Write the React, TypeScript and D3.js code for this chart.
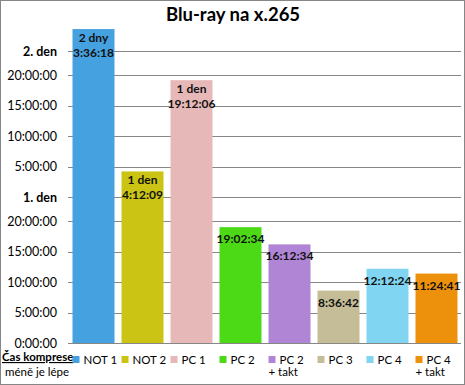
import React from "react";
import * as d3 from "d3";

const categories = ["NOT 1", "NOT 2", "PC 1", "PC 2", "PC 2\n+ takt", "PC 3", "PC 4", "PC 4\n+ takt"];
const durationDays = [2, 1, 1, 0, 0, 0, 0, 0];
const durationTimes = ["3:36:18", "4:12:09", "19:12:06", "19:02:34", "16:12:34", "8:36:42", "12:12:24", "11:24:41"];
const barColors = ["#46a1e0", "#cbc414", "#e6b8b7", "#4cda16", "#b085d5", "#c4bd97", "#7fd5f2", "#ed900b"];
const tickHours = [0, 5, 10, 15, 20, 24, 29, 34, 39, 44, 48];
const tickLabels = ["0:00:00", "5:00:00", "10:00:00", "15:00:00", "20:00:00", "1. den", "5:00:00", "10:00:00", "15:00:00", "20:00:00", "2. den"];
const title = "Blu-ray na x.265";
const legendTitle = "Čas komprese";
const legendSub = "méně je lépe";

const W = 465, H = 385;
const FONT = "Lato, 'Liberation Sans', Arial, sans-serif";

function toHours(days: number, t: string) {
  const [h, m, s] = t.split(":").map(Number);
  return days * 24 + h + m / 60 + s / 3600;
}

export default function App() {
  const values = durationDays.map((d, i) => toHours(d, durationTimes[i]));
  const x = d3.scaleBand<number>().domain(d3.range(categories.length)).range([69, 461]).paddingInner(0.143).paddingOuter(0.0715);
  const y = d3.scaleLinear().domain([0, 48]).range([343, 51]);
  const right = 461;

  return (
    <svg width={W} height={H} style={{ position: "absolute", left: 0, top: 0, background: "#fff" }} fontFamily={FONT}>
      <rect x={0.5} y={0.5} width={W - 1} height={H - 1} fill="#fff" stroke="#868686" />
      <text x={233} y={21} textAnchor="middle" fontSize={18.5} fontWeight="bold" fill="#000">{title}</text>
      {tickHours.slice(1).map((t, i) => (
        <line key={"g" + i} x1={73} x2={right} y1={Math.round(y(t)) + 0.5} y2={Math.round(y(t)) + 0.5} stroke="#878787" />
      ))}
      {tickHours.map((t, i) => (
        <g key={"t" + i}>
          <line x1={68} x2={73} y1={Math.round(y(t)) + 0.5} y2={Math.round(y(t)) + 0.5} stroke="#878787" />
          <text x={57} y={y(t) + 4.5} textAnchor="end" fontSize={12.5} fontWeight={tickLabels[i].includes("den") ? "bold" : "normal"} fill="#000">{tickLabels[i]}</text>
        </g>
      ))}
      {values.map((v, i) => (
        <rect key={"b" + i} x={x(i)} y={y(v)} width={x.bandwidth()} height={y(0) - y(v)} fill={barColors[i]} />
      ))}
      <line x1={69} x2={right} y1={343.5} y2={343.5} stroke="#878787" />
      {values.map((v, i) => {
        const cx = (x(i) as number) + x.bandwidth() / 2;
        const top = y(v);
        const d = durationDays[i];
        const lines = d > 0 ? [`${d} ${d === 1 ? "den" : "dny"}`, durationTimes[i]] : [durationTimes[i]];
        const first = lines.length > 1 ? top + 13 : top + 16;
        return (
          <text key={"l" + i} textAnchor="middle" fontSize={12} fontWeight="bold" fill="#111">
            {lines.map((l, j) => (
              <tspan key={j} x={cx} y={first + j * 14.5}>{l}</tspan>
            ))}
          </text>
        );
      })}
      <text x={2} y={361} fontSize={11.5} fontWeight="bold" fill="#000" textDecoration="underline">{legendTitle}</text>
      <text x={37} y={376} textAnchor="middle" fontSize={11.5} fill="#000">{legendSub}</text>
      {categories.map((c, i) => {
        const mx = x(i) as number;
        const parts = c.split("\n");
        return (
          <g key={"lg" + i}>
            <rect x={mx} y={356} width={7} height={7} fill={barColors[i]} />
            <text fontSize={11.5} fill="#000">
              <tspan x={mx + 11} y={363.5}>{parts[0]}</tspan>
              {parts[1] && <tspan x={mx} y={376}>{parts[1]}</tspan>}
            </text>
          </g>
        );
      })}
    </svg>
  );
}
